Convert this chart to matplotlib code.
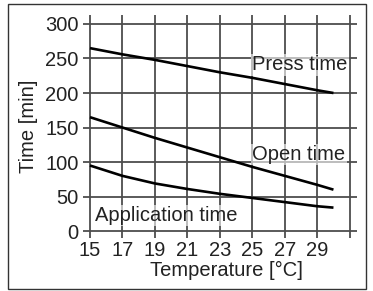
import matplotlib
matplotlib.use("Agg")
import matplotlib.pyplot as plt
from matplotlib.patches import Rectangle

plt.rcParams['font.family'] = ['Liberation Sans', 'DejaVu Sans']

temperature = [15, 17, 19, 21, 23, 25, 27, 29, 30]
press_time = [265, 256, 248, 239, 230, 222, 213, 204, 200]
open_time = [165, 150, 135, 121, 107, 93, 80, 67, 60]
application_time = [95, 80, 69, 61, 54, 48, 42, 36, 34]

x_ticks = [15, 17, 19, 21, 23, 25, 27, 29, 31]
x_tick_labels = ['15', '17', '19', '21', '23', '25', '27', '29', '']
y_ticks = [0, 50, 100, 150, 200, 250, 300]
y_tick_labels = ['0', '50', '100', '150', '200', '250', '300']

series_labels = ['Press time', 'Open time', 'Application time']
label_pos = [(25.0, 233), (25.0, 103), (15.3, 14.5)]

W, H = 373, 291
fig = plt.figure(figsize=(W / 100, H / 100), dpi=100)
fig.patch.set_facecolor('white')
fig.patches.append(Rectangle((8 / W, 2 / H), 358 / W, 285 / H, transform=fig.transFigure,
                             fill=False, edgecolor='#333333', linewidth=1.0))

ax = fig.add_axes([83 / W, 53 / H, 274 / W, 223 / H])
ax.set_xlim(14.57, 31.45)
ax.set_ylim(-10, 313)
for s in ax.spines.values():
    s.set_visible(False)

ax.set_xticks(x_ticks)
ax.set_xticklabels(x_tick_labels)
ax.set_yticks(y_ticks)
ax.set_yticklabels(y_tick_labels)
ax.tick_params(length=0, labelsize=14.5, colors='#222222')
ax.tick_params(axis='x', pad=2)
ax.tick_params(axis='y', pad=3)
ax.grid(True, color='#4d4d4d', linewidth=1.3)
ax.set_axisbelow(True)

for ys in (press_time, open_time, application_time):
    ax.plot(temperature, ys, color='black', linewidth=1.9, solid_capstyle='butt', zorder=3)

for lab, (lx, ly) in zip(series_labels, label_pos):
    ax.text(lx, ly, lab, fontsize=14.5, color='#222222', ha='left', va='baseline', zorder=4,
            bbox=dict(facecolor='white', edgecolor='none', alpha=0.6, pad=1.0))

ax.set_xlabel('Temperature [°C]', fontsize=14.5, color='#222222')
ax.set_ylabel('Time [min]', fontsize=14.5, color='#222222')
ax.xaxis.set_label_coords(0.522, -0.102)
ax.yaxis.set_label_coords(-0.165, 0.5)

fig.savefig('out.png', dpi=100, facecolor='white')
